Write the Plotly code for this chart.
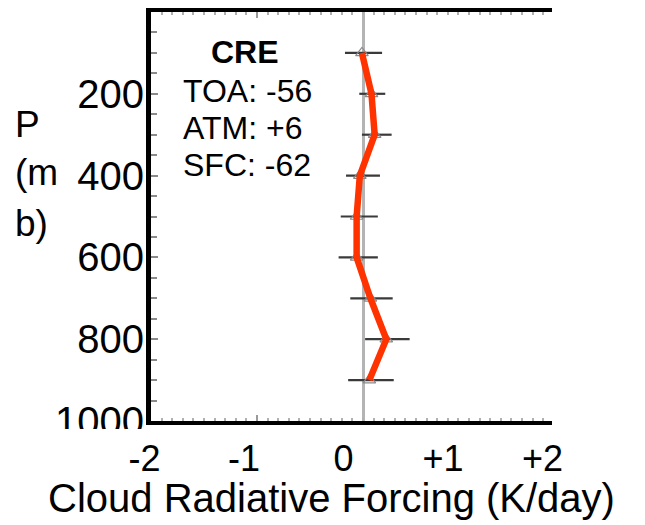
import plotly.graph_objects as go

# Pressure levels (mb) and cloud radiative heating profile (K/day)
levels = [100, 200, 300, 400, 500, 600, 700, 800, 900]
cre_heating = [-0.01, 0.08, 0.11, -0.03, -0.06, -0.06, 0.07, 0.22, 0.06]
range_low = [-0.17, -0.035, -0.01, -0.16, -0.21, -0.23, -0.12, 0.02, -0.14]
range_high = [0.18, 0.21, 0.27, 0.16, 0.14, 0.14, 0.28, 0.44, 0.29]

# Column-integrated CRE summary (W/m2)
summary_title = "CRE"
summary_lines = ["TOA: -56", "ATM: +6", "SFC: -62"]

x_tick_vals = [-2, -1, 0, 1, 2]
x_tick_text = ["-2", "-1", "0", "+1", "+2"]
y_tick_vals = [200, 400, 600, 800, 1000]

W, H = 645, 525
L, R, T, B = 151, 552, 8, 421
FONT = "Liberation Sans, Arial, sans-serif"


def px_x(px):
    return (px - L) / (R - L)


def px_y(py):
    return (B - py) / (B - T)


err_plus = [h - c for h, c in zip(range_high, cre_heating)]
err_minus = [c - l for c, l in zip(cre_heating, range_low)]

fig = go.Figure()

# spread bars with open markers
fig.add_trace(go.Scatter(
    x=cre_heating, y=levels, mode="markers",
    marker=dict(symbol="triangle-up-open", size=11, color="#8a8a8a",
                line=dict(width=1.2, color="#8a8a8a")),
    error_x=dict(type="data", symmetric=False, array=err_plus,
                 arrayminus=err_minus, color="#3a3a3a", thickness=2.2, width=0),
    showlegend=False, hoverinfo="skip",
))

# mean profile
fig.add_trace(go.Scatter(
    x=cre_heating, y=levels, mode="lines",
    line=dict(color="#ff3300", width=6.5),
    showlegend=False, hoverinfo="skip",
))

# empty trace that carries the labelled forcing scale (xaxis2)
fig.add_trace(go.Scatter(
    x=x_tick_vals, y=[None] * len(x_tick_vals), xaxis="x2", yaxis="y",
    mode="markers", showlegend=False, hoverinfo="skip",
))

annotations = [
    dict(text="<b>%s</b>" % summary_title, x=px_x(245), y=px_y(48),
         xanchor="center", yanchor="middle", font=dict(size=32)),
]
for i, t in enumerate(summary_lines):
    annotations.append(dict(text=t, x=px_x(181), y=px_y(88 + 37 * i),
                            xanchor="left", yanchor="middle", font=dict(size=32)))

# axis titles
for t, cy in zip(["P", "(m", "b)"], [122, 170, 222]):
    annotations.append(dict(text=t, x=px_x(13), y=px_y(cy), xanchor="left",
                            yanchor="middle", font=dict(size=37)))
annotations.append(dict(text="Cloud Radiative Forcing (K/day)", x=px_x(331),
                        y=px_y(499), xanchor="center", yanchor="middle",
                        font=dict(size=40)))
for a in annotations:
    a.update(xref="paper", yref="paper", showarrow=False)
    a["font"].update(family=FONT, color="black")

# labelled scale: 99.5 px per unit, labels nudged 7 px left of their ticks
lab_px = 99.5
lab_zero = 350.5

fig.update_layout(
    width=W, height=H,
    margin=dict(l=L, r=W - R, t=T, b=H - B, pad=0),
    paper_bgcolor="white", plot_bgcolor="white",
    font=dict(family=FONT, color="black"),
    annotations=annotations,
    xaxis=dict(
        range=[-2.0, (R - 363) / 106.0], showgrid=False,
        zeroline=True, zerolinecolor="#b4b4b4", zerolinewidth=3,
        showline=True, linecolor="black", linewidth=4, mirror="allticks",
        ticks="inside", ticklen=6, tickcolor="#9a9a9a", tickwidth=1.5,
        tickvals=[-1], showticklabels=False,
        minor=dict(ticks="inside", dtick=0.1, ticklen=3, tickcolor="#b0b0b0",
                   tickwidth=1.5, showgrid=False),
    ),
    xaxis2=dict(
        overlaying="x", anchor="y", side="bottom",
        range=[(L - lab_zero) / lab_px, (R - lab_zero) / lab_px],
        tickvals=x_tick_vals, ticktext=x_tick_text,
        tickfont=dict(size=36, family=FONT, color="black"),
        showgrid=False, zeroline=False, showline=False, ticks="",
        ticklabelstandoff=13, ticklabelshift=-7,
    ),
    yaxis=dict(
        range=[1000, 0], showgrid=False, zeroline=False,
        showline=True, linecolor="black", linewidth=5, mirror=False,
        ticks="inside", ticklen=7, tickcolor="#8a8a8a", tickwidth=1.5,
        tickvals=y_tick_vals, ticklabelstandoff=-6,
        tickfont=dict(size=40, family=FONT, color="black"),
        minor=dict(ticks="inside", dtick=50, ticklen=6, tickcolor="#8a8a8a",
                   tickwidth=1.5, showgrid=False),
    ),
    shapes=[
        # white strip trimming the lowest pressure label under the frame
        dict(type="rect", xref="paper", yref="paper", layer="above",
             x0=px_x(40), x1=px_x(147), y0=px_y(444), y1=px_y(429),
             fillcolor="white", line=dict(width=0)),
    ],
)

fig.write_html("out.html")
